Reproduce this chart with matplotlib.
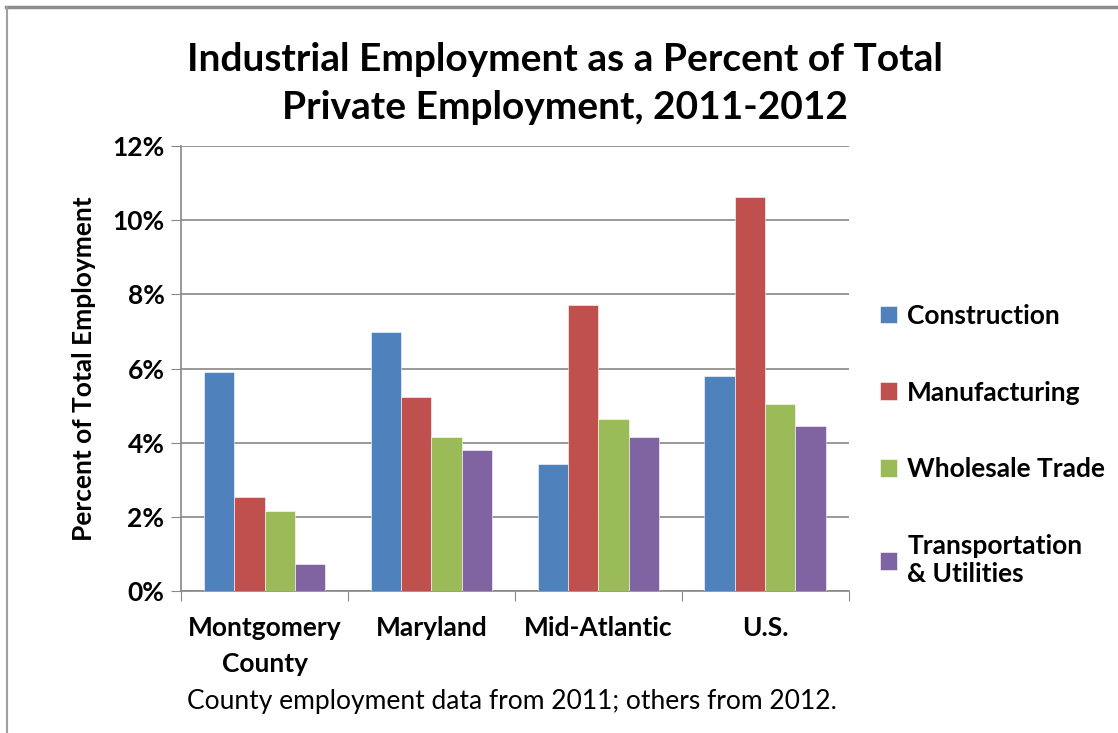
import numpy as np
import matplotlib
matplotlib.use('Agg')
import matplotlib.pyplot as plt
from matplotlib.lines import Line2D

plt.rcParams['font.family'] = ['Lato', 'DejaVu Sans']

# data (percent of total private employment)
regions = ['Montgomery\nCounty', 'Maryland', 'Mid-Atlantic', 'U.S.']
series = ['Construction', 'Manufacturing', 'Wholesale Trade', 'Transportation\n& Utilities']
construction = [5.92, 6.99, 3.43, 5.79]
manufacturing = [2.53, 5.23, 7.72, 10.62]
wholesale = [2.16, 4.16, 4.65, 5.05]
transport = [0.74, 3.81, 4.16, 4.44]
yticks = [0, 2, 4, 6, 8, 10, 12]
colors = ['#4F81BD', '#C0504D', '#9BBB59', '#8064A2']

fig = plt.figure(figsize=(11.18, 7.33), dpi=100)
ax = fig.add_axes([0.162, 0.1937, 0.597, 0.607])

x = np.arange(len(regions))
w = 1 / 5.5
for i, vals in enumerate([construction, manufacturing, wholesale, transport]):
    ax.bar(x + (i - 1.5) * w, vals, width=w, color=colors[i], label=series[i],
           edgecolor='white', linewidth=0.4, zorder=3)

ax.set_xlim(-0.5, len(regions) - 0.5)
ax.set_ylim(0, 12)
ax.set_yticks(yticks)
ax.set_yticklabels(['%d%%' % t for t in yticks], fontsize=19, fontweight='bold')
ax.yaxis.grid(True, color='#888888', linewidth=1.2, zorder=0)

# category separators as major ticks, labels on minor ticks
ax.set_xticks(np.arange(len(regions) + 1) - 0.5)
ax.set_xticklabels([])
ax.set_xticks(x, minor=True)
ax.set_xticklabels(regions, minor=True, fontsize=19, fontweight='bold')
ax.tick_params(axis='x', which='minor', length=0, pad=18)
ax.tick_params(axis='x', which='major', length=7, color='#888888')
ax.tick_params(axis='y', length=7, color='#888888', pad=5)
for lbl in ax.get_xticklabels(minor=True):
    lbl.set_linespacing(1.6)

for s in ['top', 'right']:
    ax.spines[s].set_visible(False)
for s in ['left', 'bottom']:
    ax.spines[s].set_color('#888888')
    ax.spines[s].set_linewidth(1.2)

ax.set_ylabel('Percent of Total Employment', fontsize=19, fontweight='bold', labelpad=12)

fig.text(0.505, 0.886, 'Industrial Employment as a Percent of Total\nPrivate Employment, 2011-2012',
         ha='center', va='center', fontsize=28, fontweight='bold', linespacing=1.45)
fig.text(0.458, 0.043, 'County employment data from 2011; others from 2012.',
         ha='center', va='center', fontsize=19)

leg = ax.legend(loc='center left', bbox_to_anchor=(0.775, 0.393),
                bbox_transform=fig.transFigure, frameon=False,
                prop={'size': 19, 'weight': 'bold'}, handlelength=0.65,
                handleheight=0.65, handletextpad=0.4, labelspacing=2.0, borderpad=0)

# grey frame lines on top and left of the picture
fig.add_artist(Line2D([0.005, 1], [0.991, 0.991], color='#8c8c8c', linewidth=2.5,
                      transform=fig.transFigure))
fig.add_artist(Line2D([0.006, 0.006], [0, 0.991], color='#a0a0a0', linewidth=1.5,
                      transform=fig.transFigure))

fig.savefig('out.png', dpi=100)
